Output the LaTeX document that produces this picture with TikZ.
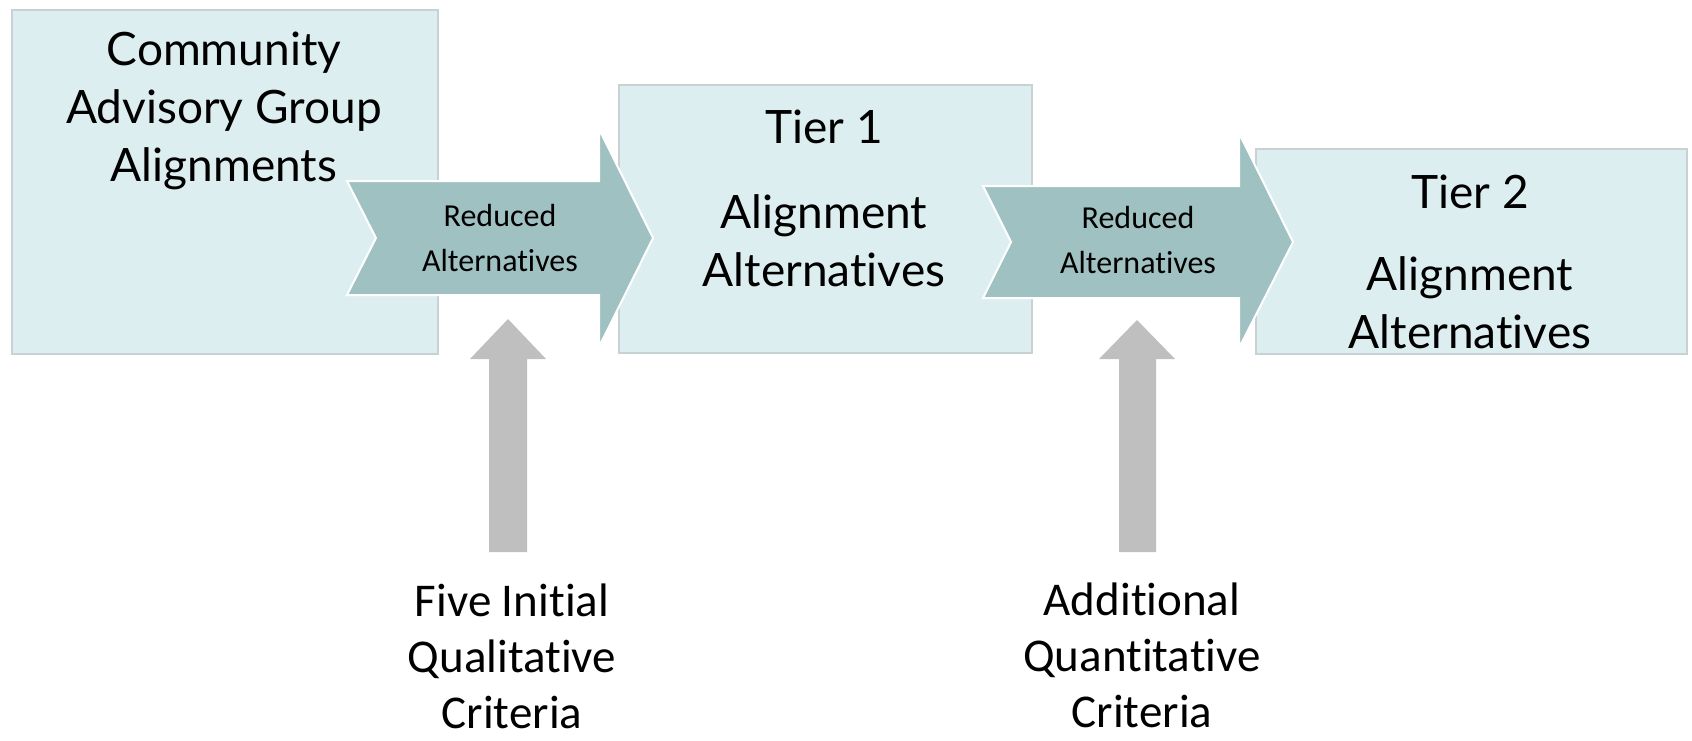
\documentclass[tikz,border=0pt]{standalone}
\usepackage{fontspec}
\setmainfont{Carlito}[Ligatures=NoCommon]
\newfontfamily\gillfont{Lato}[Ligatures=NoCommon]
\usetikzlibrary{positioning}
\definecolor{boxfill}{RGB}{221,238,241}
\definecolor{boxline}{RGB}{200,210,212}
\definecolor{chevfill}{RGB}{160,193,194}
\definecolor{upgray}{RGB}{191,191,191}
\tikzset{every picture/.style={line width=0.75pt}}
\tikzset{
  box/.style={draw=boxline,fill=boxfill,inner sep=0pt,anchor=north west},
  bigtext/.style={font=\gillfont\fontsize{23}{29}\selectfont,align=center,inner sep=0pt},
  chevtext/.style={font=\fontsize{16}{22.5}\selectfont,align=center,inner sep=0pt},
  crittext/.style={font=\fontsize{23.5}{28}\selectfont,align=center,inner sep=0pt},
  chevron/.style={fill=chevfill,draw=white,line width=1pt},
  uparrow/.style={fill=upgray,draw=none},
}

\begin{document}
\begin{tikzpicture}[x=0.5pt,y=0.5pt,yscale=-1]
\useasboundingbox (0,0) rectangle (1692,740);

%Boxes
\node[box,minimum width=213pt,minimum height=172pt] (cag) at (11,9) {};
\node[box,minimum width=206.5pt,minimum height=134pt] (tier1) at (618,84) {};
\node[box,minimum width=215.5pt,minimum height=102.5pt] (tier2) at (1255,148) {};

%Chevrons
\draw[chevron] (347,181) -- (599,181) -- (599,129) -- (653,238) -- (599,347) -- (599,295) -- (347,295) -- (376,238) -- cycle;
\draw[chevron] (983,186) -- (1239,186) -- (1239,133) -- (1293,242) -- (1239,348) -- (1239,298) -- (983,298) -- (1011,242) -- cycle;

%Up arrows
\coordinate (up1) at (508,319);
\coordinate (up2) at (1137,320);
\fill[uparrow] (up1) -- ++(38,40) -- ++(-19,0) -- (527,552) -- (489,552) -- (489,359) -- (470,359) -- cycle;
\fill[uparrow] (up2) -- ++(38,39) -- ++(-19,0) -- (1156,552) -- (1119,552) -- (1119,359) -- (1099,359) -- cycle;

% Text Node
\node[bigtext] (cagtext) at (224,111) {Community\\Advisory Group\\Alignments};
% Text Node
\node[bigtext] (t1head) at (824,127) {Tier 1};
\node[bigtext] (t1text) at (824,241) {Alignment\\Alternatives};
% Text Node
\node[bigtext] (t2head) at (1470,192) {Tier 2};
\node[bigtext] (t2text) at (1470,303) {Alignment\\Alternatives};
% Text Node
\node[chevtext] (red1) at (500,238) {Reduced\\Alternatives};
\node[chevtext] (red2) at (1138,240) {Reduced\\Alternatives};
% Text Node
\node[crittext] (crit1) at (512,656) {Five Initial\\Qualitative\\Criteria};
\node[crittext] (crit2) at (1142,655) {Additional\\Quantitative\\Criteria};

\end{tikzpicture}
\end{document}
